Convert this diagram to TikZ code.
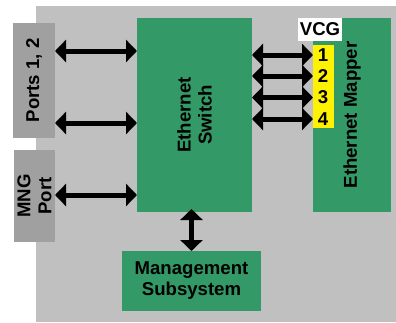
\documentclass[tikz,border=0pt]{standalone}
\usepackage{fontspec}
\setmainfont{Liberation Sans}[BoldFont={Liberation Sans Bold}]
\newfontfamily\labelfont{Liberation Sans Bold}
\usetikzlibrary{arrows.meta}
\definecolor{bggray}{HTML}{C0C0C0}
\definecolor{portgray}{HTML}{A0A0A0}
\definecolor{blockgreen}{HTML}{339966}
\begin{document}
\begin{tikzpicture}[x=1pt,y=-1pt,
  every node/.style={font=\labelfont\fontsize{18.6}{21}\selectfont, inner sep=0pt, outer sep=0pt},
  greenbox/.style={fill=blockgreen, draw=none},
  portbox/.style={fill=portgray, draw=none},
  dbl/.style={line width=5pt, {Triangle[length=11pt,width=22pt]}-{Triangle[length=11pt,width=22pt]}},
  vtext/.style={rotate=90, align=center}
]
\useasboundingbox (0,0) rectangle (396,322);
% shelf background
\fill[bggray] (36,6) rectangle (396,322);

% port blocks on the left edge
\node[portbox, minimum width=42pt, minimum height=115pt] (ports) at (34,80.5) {};
\node[vtext] at (ports.center) {Ports 1, 2};
\node[portbox, minimum width=41pt, minimum height=92pt] (mng) at (34.5,196) {};
\node[vtext] at (mng.center) {MNG\\Port};

% main functional blocks
\node[greenbox, minimum width=115pt, minimum height=194pt] (switch) at (194.5,115) {};
\node[vtext] at (switch.center) {Ethernet\\Switch};
\node[greenbox, minimum width=78pt, minimum height=194pt] (mapper) at (352,115) {};
\node[vtext] at (mapper.center) {Ethernet Mapper};
\node[greenbox, minimum width=139pt, minimum height=60pt, align=center] (mgmt) at (191.5,281) {Management\\Subsystem};

% virtual concatenation group ports
\node[fill=white, minimum width=44pt, minimum height=23pt] (vcg) at (320,29.5) {VCG};
\node[fill=yellow, minimum width=21pt, minimum height=83pt] (vcgbox) at (323.5,86.5) {};
\node (n1) at (323,55) {1};
\node (n2) at (323,76) {2};
\node (n3) at (323,97.5) {3};
\node (n4) at (323,119) {4};

% data paths
\draw[dbl] (ports.east |- {(0,51)}) -- (switch.west |- {(0,51)});
\draw[dbl] (ports.east |- {(0,123)}) -- (switch.west |- {(0,123)});
\draw[dbl] (mng.east |- {(0,195)}) -- (switch.west |- {(0,195)});
\foreach \n in {n1,n2,n3,n4}
  \draw[dbl] (switch.east |- \n) -- (vcgbox.west |- \n);
\draw[dbl] (switch.south -| mgmt.north) ++(0,-3) -- (mgmt.north);
\end{tikzpicture}
\end{document}
